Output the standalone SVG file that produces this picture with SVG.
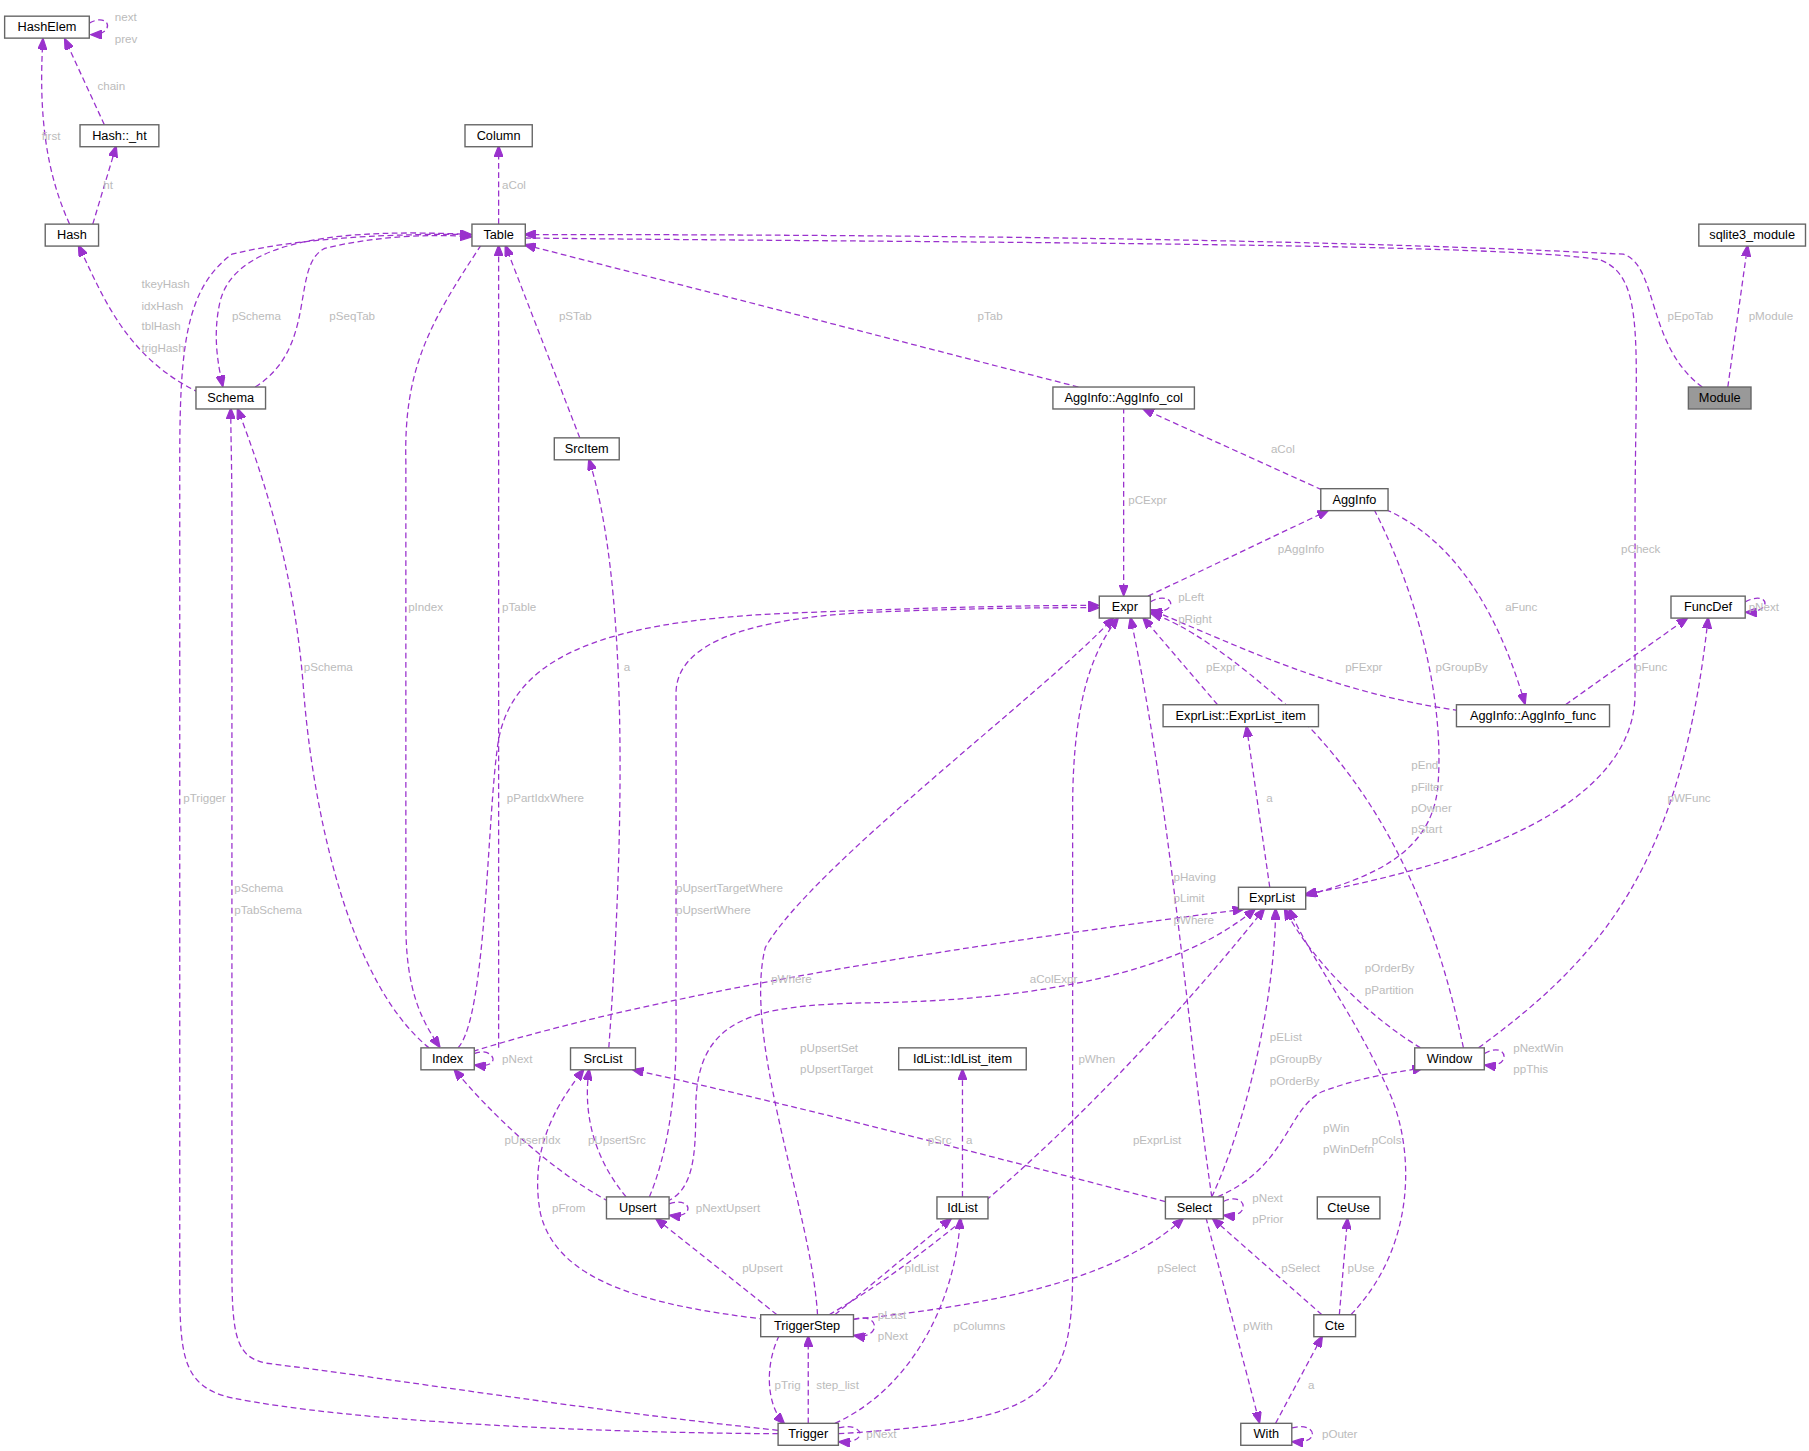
<svg xmlns="http://www.w3.org/2000/svg" width="1809" height="1451" viewBox="0 0 1809 1451">
<defs>
<marker id="ah" markerWidth="10" markerHeight="8" refX="9" refY="4" orient="auto" markerUnits="userSpaceOnUse"><path d="M0,0 L10,4 L0,8 Z" fill="#9a32cd" stroke="#9a32cd"/></marker>
<style>
.n rect{fill:#fff;stroke:#666;stroke-width:1.2}
.n text{font-family:"Liberation Sans",Arial,sans-serif;font-size:11px;fill:#000;text-anchor:middle}
.e path{fill:none;stroke:#9a32cd;stroke-width:1.1;stroke-dasharray:5,3;marker-end:url(#ah)}
.l text{font-family:"Liberation Sans",Arial,sans-serif;font-size:10px;fill:#bbb}
</style>
</defs>
<rect width="1809" height="1451" fill="#fff"/>
<g transform="scale(1.1596,1.1553)">
<g class="e">
<path d="M77,20 C95,10 100,30 79,30"/>
<path d="M90,108 L56,34"/>
<path d="M60,194 C40,150 33,100 37,34"/>
<path d="M80,194 L100,127"/>
<path d="M430,194 L430,127"/>
<path d="M172,340 C110,310 90,260 68,213"/>
<path d="M407,203 C300,198 205,205 190,260 C183,290 188,315 192,334"/>
<path d="M220,335 C275,300 250,230 280,215 C320,205 370,202 406,205"/>
<path d="M671,1241 C500,1240 300,1230 200,1210 C155,1200 155,1170 155,1100 L155,400 C155,300 160,250 200,220 C260,205 350,202 406,203"/>
<path d="M430,907 L430,213"/>
<path d="M415,212 C370,280 348,320 350,400 L350,800 C350,860 365,885 379,906"/>
<path d="M500,379 L436,213"/>
<path d="M930,335 L453,212"/>
<path d="M1468,335 C1420,300 1430,230 1400,220 C1100,205 700,203 453,203"/>
<path d="M1490,335 L1507,213"/>
<path d="M453,206 C800,210 1300,210 1380,225 C1420,240 1410,300 1410,450 L1410,600 C1410,700 1260,750 1126,774"/>
<path d="M969,353 L969,515"/>
<path d="M1140,424 L986,354"/>
<path d="M990,516 L1145,442"/>
<path d="M1195,441 C1260,470 1295,540 1315,609"/>
<path d="M1185,441 C1230,530 1245,620 1240,680 C1235,740 1180,760 1127,775"/>
<path d="M992,521 C1010,510 1020,530 993,530"/>
<path d="M1050,610 L986,535"/>
<path d="M1258,615 C1150,600 1070,560 993,528"/>
<path d="M1350,610 L1455,535"/>
<path d="M1505,521 C1525,510 1530,530 1506,530"/>
<path d="M1095,768 L1075,629"/>
<path d="M1262,907 C1240,800 1200,700 1120,620 C1060,565 1020,540 993,531"/>
<path d="M1275,907 C1380,830 1450,750 1473,535"/>
<path d="M1225,907 C1180,880 1130,830 1108,787"/>
<path d="M1280,912 C1300,900 1305,925 1281,922"/>
<path d="M395,907 C420,880 420,700 430,640 C445,560 540,535 700,530 C800,526 880,524 947,524"/>
<path d="M408,910 C600,850 900,810 1072,787"/>
<path d="M409,912 C425,905 435,925 410,922"/>
<path d="M370,907 C300,850 270,700 262,600 C255,500 230,420 205,354"/>
<path d="M560,1036 C575,1000 583,950 583,900 L583,600 C583,555 650,535 750,530 C850,526 900,526 947,526"/>
<path d="M575,1040 C598,1030 600,1000 600,960 C600,880 650,870 750,868 C900,866 1020,840 1082,787"/>
<path d="M525,1040 C470,1010 420,960 392,926"/>
<path d="M540,1036 C510,1000 503,960 508,926"/>
<path d="M577,1042 C597,1035 600,1055 578,1052"/>
<path d="M525,907 C540,700 540,500 508,398"/>
<path d="M1005,1040 C850,1000 700,960 546,926"/>
<path d="M830,1036 L830,926"/>
<path d="M1045,1036 C1025,900 1010,700 975,535"/>
<path d="M1045,1036 C1080,960 1100,850 1100,787"/>
<path d="M1050,1036 C1110,1010 1110,960 1140,945 C1180,930 1210,928 1227,924"/>
<path d="M1055,1040 C1075,1030 1080,1055 1056,1052"/>
<path d="M1040,1054 L1086,1231"/>
<path d="M1140,1138 L1046,1055"/>
<path d="M1155,1138 L1162,1055"/>
<path d="M1165,1138 C1220,1080 1220,1000 1200,950 C1170,880 1130,830 1112,787"/>
<path d="M1100,1232 L1140,1157"/>
<path d="M1114,1236 C1135,1230 1140,1250 1115,1248"/>
<path d="M705,1138 C700,1050 640,900 660,820 C700,750 900,600 960,535"/>
<path d="M715,1138 C850,1060 1000,900 1090,787"/>
<path d="M660,1142 C560,1130 480,1110 466,1050 C455,990 485,950 503,926"/>
<path d="M670,1138 L566,1055"/>
<path d="M720,1138 L820,1055"/>
<path d="M736,1142 C850,1130 960,1110 1020,1055"/>
<path d="M736,1142 C760,1135 760,1160 737,1156"/>
<path d="M672,1156 C660,1180 660,1215 676,1232"/>
<path d="M697,1232 L697,1157"/>
<path d="M720,1232 C790,1200 825,1120 828,1055"/>
<path d="M723,1241 C900,1230 925,1210 925,1100 L925,700 C925,600 945,560 964,535"/>
<path d="M671,1238 C500,1220 350,1195 230,1180 C205,1175 200,1160 200,1100 L200,450 C200,400 199,380 199,354"/>
<path d="M723,1236 C745,1230 750,1250 724,1248"/>
</g>
<g class="l">
<text x="99" y="18">next</text><text x="99" y="37">prev</text>
<text x="84" y="78">chain</text><text x="36" y="121">first</text><text x="89" y="164">ht</text>
<text x="433" y="164">aCol</text>
<text x="122" y="249">tkeyHash</text><text x="122" y="268">idxHash</text><text x="122" y="286">tblHash</text><text x="122" y="305">trigHash</text>
<text x="200" y="277">pSchema</text><text x="284" y="277">pSeqTab</text>
<text x="482" y="277">pSTab</text><text x="843" y="277">pTab</text>
<text x="1438" y="277">pEpoTab</text><text x="1508" y="277">pModule</text>
<text x="1398" y="479">pCheck</text>
<text x="973" y="436">pCExpr</text><text x="1096" y="392">aCol</text><text x="1102" y="479">pAggInfo</text>
<text x="1298" y="529">aFunc</text><text x="1238" y="581">pGroupBy</text>
<text x="1016" y="520">pLeft</text><text x="1016" y="539">pRight</text>
<text x="1040" y="581">pExpr</text><text x="1160" y="581">pFExpr</text><text x="1410" y="581">pFunc</text>
<text x="1508" y="529">pNext</text>
<text x="1092" y="694">a</text>
<text x="1217" y="666">pEnd</text><text x="1217" y="685">pFilter</text><text x="1217" y="703">pOwner</text><text x="1217" y="721">pStart</text>
<text x="1438" y="694">pWFunc</text>
<text x="1177" y="841">pOrderBy</text><text x="1177" y="860">pPartition</text>
<text x="1305" y="911">pNextWin</text><text x="1305" y="929">ppThis</text>
<text x="352" y="529">pIndex</text><text x="433" y="529">pTable</text>
<text x="437" y="694">pPartIdxWhere</text><text x="888" y="851">aColExpr</text>
<text x="433" y="920">pNext</text><text x="262" y="581">pSchema</text>
<text x="158" y="694">pTrigger</text>
<text x="583" y="772">pUpsertTargetWhere</text><text x="583" y="791">pUpsertWhere</text>
<text x="690" y="911">pUpsertSet</text><text x="690" y="929">pUpsertTarget</text>
<text x="435" y="990">pUpsertIdx</text><text x="507" y="990">pUpsertSrc</text>
<text x="600" y="1049">pNextUpsert</text>
<text x="538" y="581">a</text><text x="800" y="990">pSrc</text><text x="833" y="990">a</text>
<text x="1012" y="763">pHaving</text><text x="1012" y="781">pLimit</text><text x="1012" y="800">pWhere</text>
<text x="1095" y="901">pEList</text><text x="1095" y="920">pGroupBy</text><text x="1095" y="939">pOrderBy</text>
<text x="1141" y="980">pWin</text><text x="1141" y="998">pWinDefn</text>
<text x="1080" y="1040">pNext</text><text x="1080" y="1059">pPrior</text>
<text x="1072" y="1151">pWith</text><text x="1105" y="1101">pSelect</text><text x="1162" y="1101">pUse</text>
<text x="1183" y="990">pCols</text><text x="1128" y="1202">a</text><text x="1140" y="1245">pOuter</text>
<text x="665" y="851">pWhere</text><text x="977" y="990">pExprList</text>
<text x="476" y="1049">pFrom</text><text x="640" y="1101">pUpsert</text><text x="780" y="1101">pIdList</text>
<text x="998" y="1101">pSelect</text>
<text x="757" y="1142">pLast</text><text x="757" y="1160">pNext</text>
<text x="668" y="1202">pTrig</text><text x="704" y="1202">step_list</text><text x="822" y="1151">pColumns</text>
<text x="930" y="920">pWhen</text>
<text x="202" y="772">pSchema</text><text x="202" y="791">pTabSchema</text>
<text x="747" y="1245">pNext</text>
</g>
<g class="n" id="n-HashElem"><rect x="4" y="14" width="73" height="19"/><text x="40.5" y="27">HashElem</text></g>
<g class="n" id="n-Hash_ht"><rect x="69" y="108" width="68" height="19"/><text x="103" y="121">Hash::_ht</text></g>
<g class="n" id="n-Column"><rect x="401" y="108" width="58" height="19"/><text x="430" y="121">Column</text></g>
<g class="n" id="n-Table"><rect x="407" y="194" width="46" height="19"/><text x="430" y="207">Table</text></g>
<g class="n" id="n-Hash"><rect x="39" y="194" width="46" height="19"/><text x="62" y="207">Hash</text></g>
<g class="n" id="n-sqlite3_module"><rect x="1465" y="194" width="92" height="19"/><text x="1511" y="207">sqlite3_module</text></g>
<g class="n" id="n-Schema"><rect x="169" y="335" width="60" height="19"/><text x="199" y="348">Schema</text></g>
<g class="n" id="n-AggInfo_col"><rect x="908" y="335" width="122" height="19"/><text x="969" y="348">AggInfo::AggInfo_col</text></g>
<g class="n" id="n-Module"><rect x="1456" y="335" width="54" height="19" style="fill:#999"/><text x="1483" y="348">Module</text></g>
<g class="n" id="n-SrcItem"><rect x="478" y="379" width="56" height="19"/><text x="506" y="392">SrcItem</text></g>
<g class="n" id="n-AggInfo"><rect x="1139" y="423" width="58" height="19"/><text x="1168" y="436">AggInfo</text></g>
<g class="n" id="n-Expr"><rect x="948" y="516" width="44" height="19"/><text x="970" y="529">Expr</text></g>
<g class="n" id="n-FuncDef"><rect x="1441" y="516" width="64" height="19"/><text x="1473" y="529">FuncDef</text></g>
<g class="n" id="n-ExprList_item"><rect x="1003" y="610" width="134" height="19"/><text x="1070" y="623">ExprList::ExprList_item</text></g>
<g class="n" id="n-AggInfo_func"><rect x="1256" y="610" width="132" height="19"/><text x="1322" y="623">AggInfo::AggInfo_func</text></g>
<g class="n" id="n-ExprList"><rect x="1068" y="768" width="58" height="19"/><text x="1097" y="781">ExprList</text></g>
<g class="n" id="n-Index"><rect x="363" y="907" width="46" height="19"/><text x="386" y="920">Index</text></g>
<g class="n" id="n-SrcList"><rect x="492" y="907" width="56" height="19"/><text x="520" y="920">SrcList</text></g>
<g class="n" id="n-IdList_item"><rect x="775" y="907" width="110" height="19"/><text x="830" y="920">IdList::IdList_item</text></g>
<g class="n" id="n-Window"><rect x="1220" y="907" width="60" height="19"/><text x="1250" y="920">Window</text></g>
<g class="n" id="n-Upsert"><rect x="523" y="1036" width="54" height="19"/><text x="550" y="1049">Upsert</text></g>
<g class="n" id="n-IdList"><rect x="808" y="1036" width="44" height="19"/><text x="830" y="1049">IdList</text></g>
<g class="n" id="n-Select"><rect x="1005" y="1036" width="50" height="19"/><text x="1030" y="1049">Select</text></g>
<g class="n" id="n-CteUse"><rect x="1136" y="1036" width="54" height="19"/><text x="1163" y="1049">CteUse</text></g>
<g class="n" id="n-TriggerStep"><rect x="656" y="1138" width="80" height="19"/><text x="696" y="1151">TriggerStep</text></g>
<g class="n" id="n-Cte"><rect x="1133" y="1138" width="36" height="19"/><text x="1151" y="1151">Cte</text></g>
<g class="n" id="n-Trigger"><rect x="671" y="1232" width="52" height="19"/><text x="697" y="1245">Trigger</text></g>
<g class="n" id="n-With"><rect x="1070" y="1232" width="44" height="19"/><text x="1092" y="1245">With</text></g>
</g>
</svg>
